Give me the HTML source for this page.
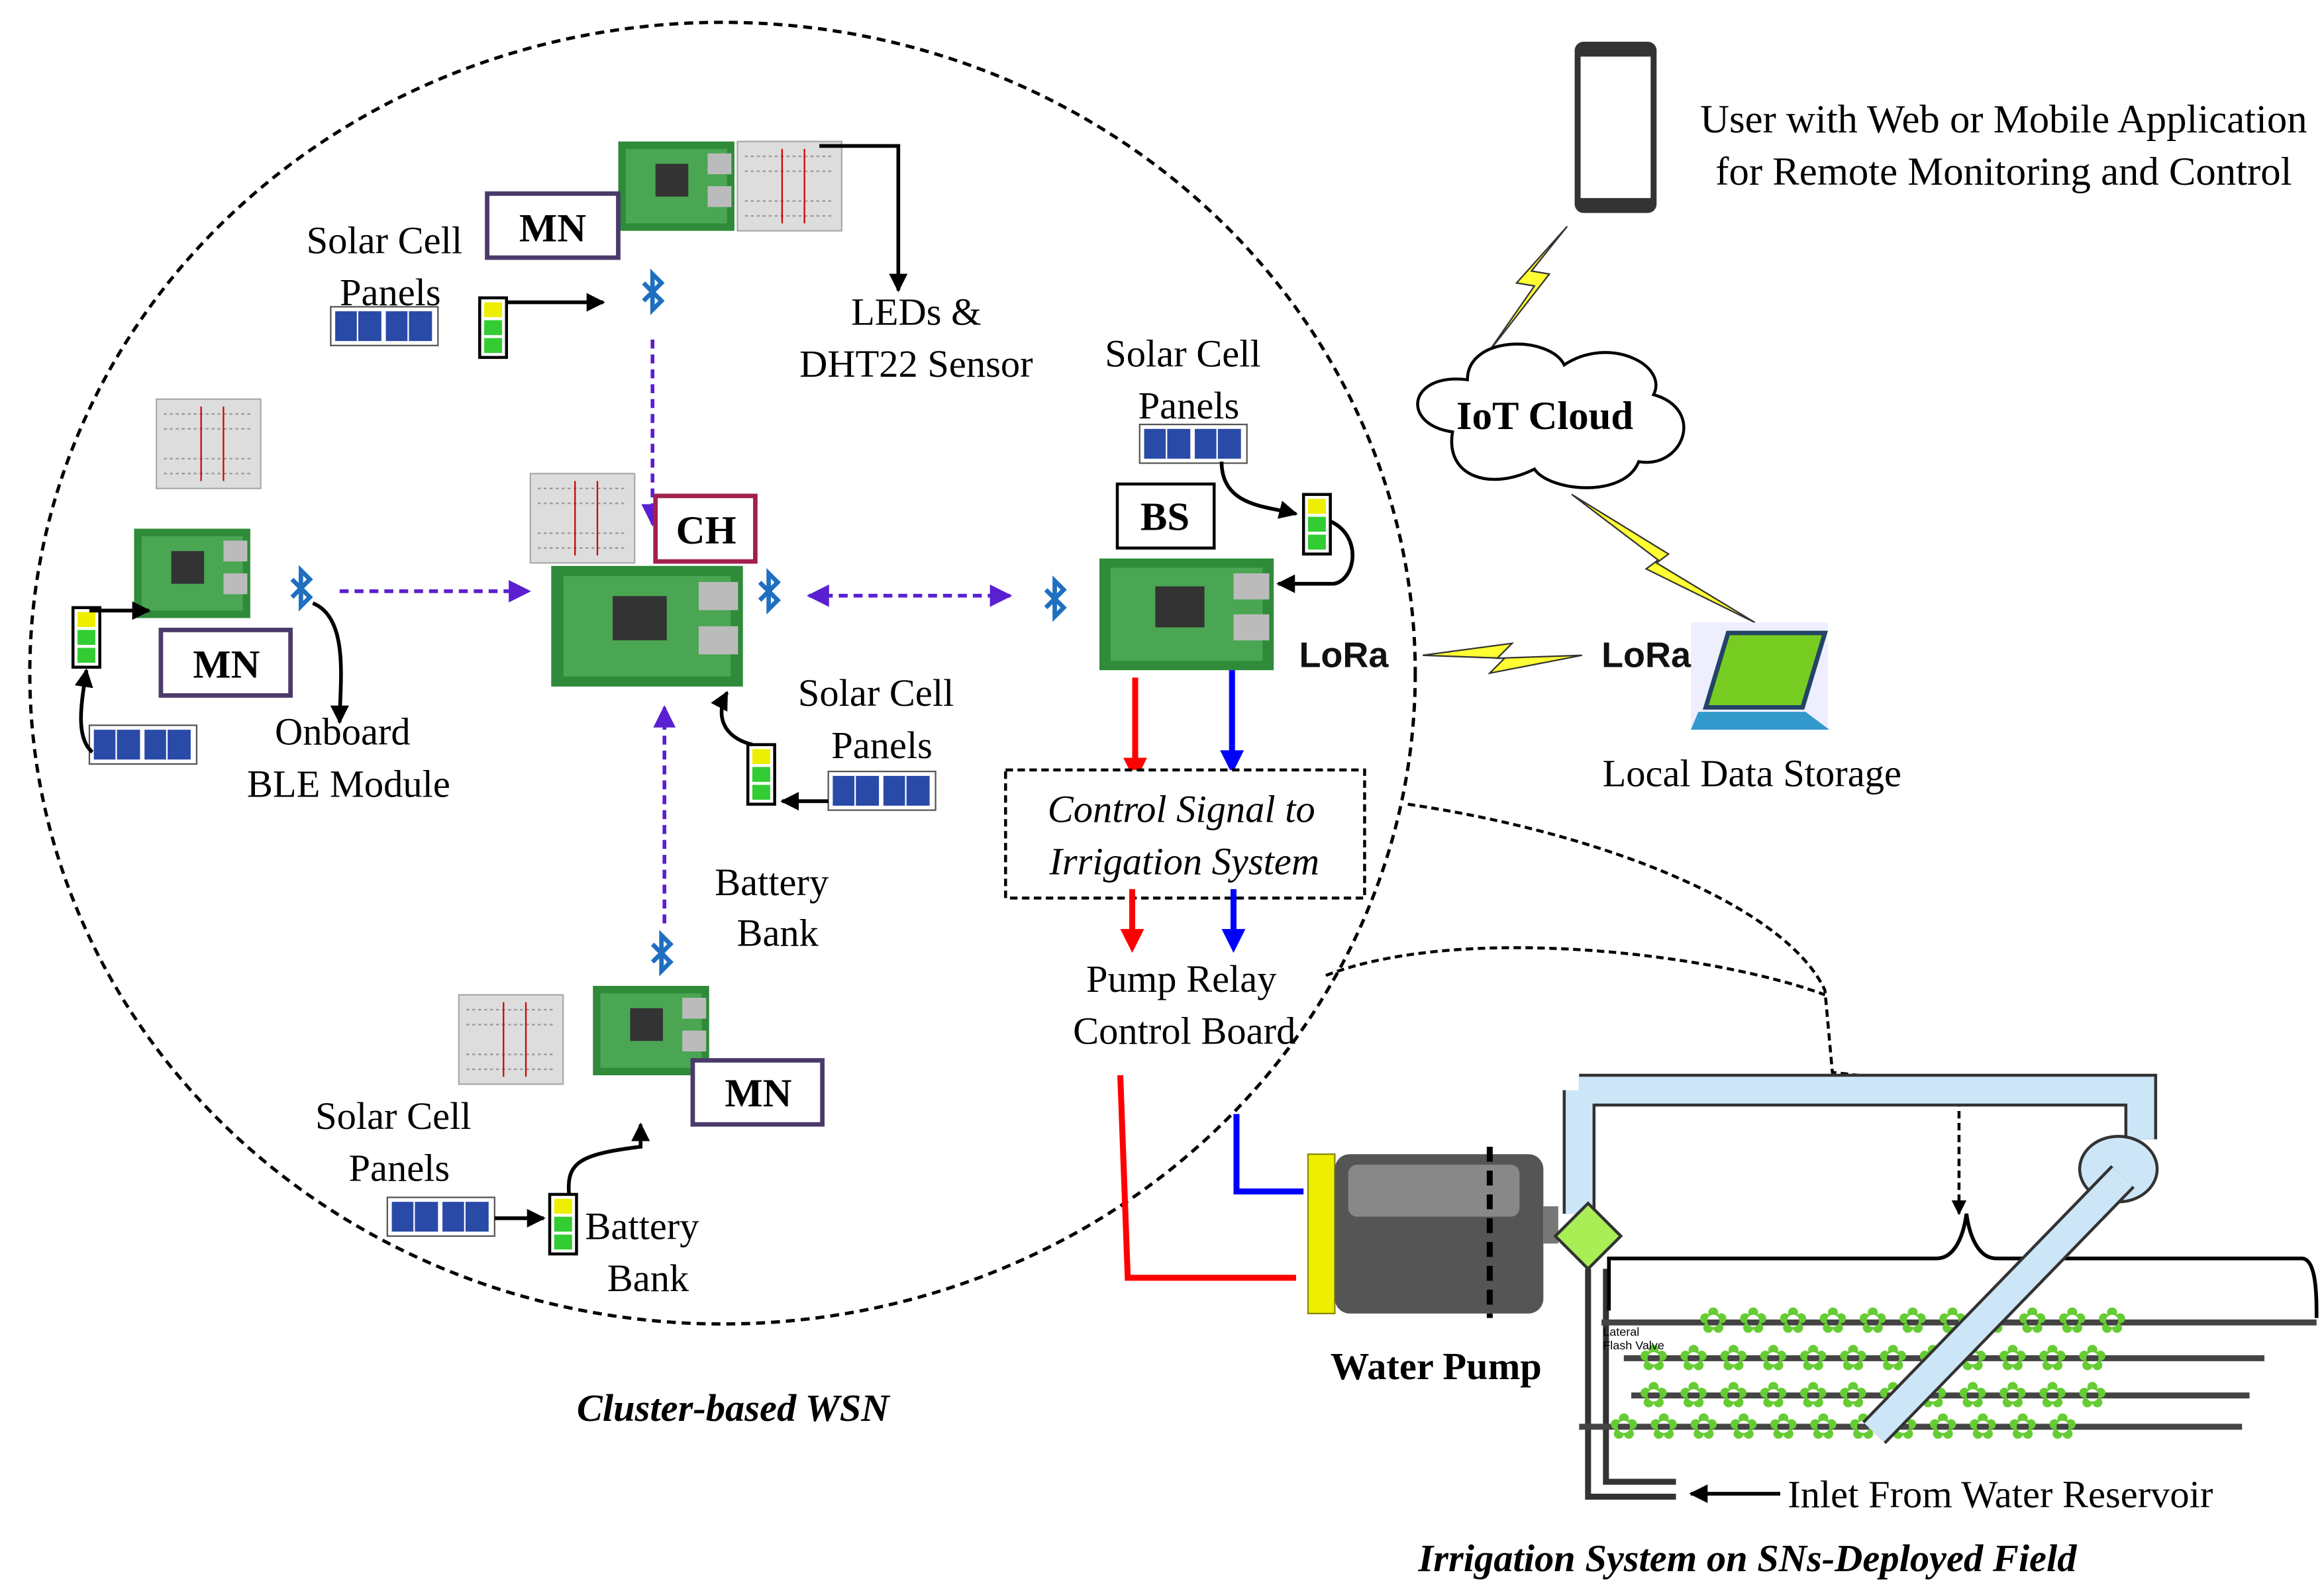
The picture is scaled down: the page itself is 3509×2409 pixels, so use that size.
<!DOCTYPE html>
<html><head><meta charset="utf-8"><style>html,body{margin:0;padding:0;background:#fff}svg{display:block}</style></head><body>
<svg width="3509" height="2409" viewBox="0 0 1560 1071" preserveAspectRatio="none" xmlns="http://www.w3.org/2000/svg" font-family="Liberation Serif, serif">
<defs>
<marker id="ab" viewBox="0 0 10 10" refX="9" refY="5" markerWidth="5" markerHeight="5" orient="auto-start-reverse"><path d="M0,0L10,5L0,10z" fill="#000"/></marker>
<marker id="ap" viewBox="0 0 10 10" refX="9" refY="5" markerWidth="6" markerHeight="6" orient="auto-start-reverse"><path d="M0,0L10,5L0,10z" fill="#5a1fd1"/></marker>
<marker id="ar" viewBox="0 0 10 10" refX="7" refY="5" markerWidth="4" markerHeight="4" orient="auto"><path d="M0,0L10,5L0,10z" fill="#f00"/></marker>
<marker id="abl" viewBox="0 0 10 10" refX="7" refY="5" markerWidth="4" markerHeight="4" orient="auto"><path d="M0,0L10,5L0,10z" fill="#00f"/></marker>
<g id="board"><rect width="78" height="60" fill="#2f8a3a"/><rect x="5" y="5" width="68" height="50" fill="#4aa653"/><rect x="25" y="15" width="22" height="22" fill="#333"/><rect x="60" y="8" width="16" height="14" fill="#bbb"/><rect x="60" y="30" width="16" height="14" fill="#bbb"/></g>
<g id="bb"><rect width="70" height="60" fill="#ddd" stroke="#aaa"/><path d="M5,10H65M5,20H65M5,40H65M5,50H65" stroke="#999" stroke-dasharray="2,2"/><path d="M30,5V55M45,5V55" stroke="#c00"/></g>
<g id="bat"><rect width="18" height="40" fill="#fff" stroke="#000" stroke-width="2"/><rect x="3" y="3" width="12" height="10" fill="#ee0"/><rect x="3" y="15" width="12" height="10" fill="#3c3"/><rect x="3" y="27" width="12" height="10" fill="#3c3"/></g>
<g id="sol"><rect width="72" height="26" fill="#fff" stroke="#555"/><rect x="3" y="3" width="31" height="20" fill="#2a4aa8"/><rect x="37" y="3" width="31" height="20" fill="#2a4aa8"/><path d="M18,3V23M52,3V23" stroke="#fff"/></g>
<g id="bt"><path d="M-6,-6L6,6L0,12V-12L6,-6L-6,6" fill="none" stroke="#1f6fc1" stroke-width="3"/></g>
</defs>
<ellipse cx="485" cy="452" rx="465" ry="437" fill="none" stroke="#000" stroke-width="2.2" stroke-dasharray="6,4"/>
<path d="M945,540C1080,560 1200,610 1225,665L1230,720L1315,730L1315,815" fill="none" stroke="#000" stroke-width="2" stroke-dasharray="5,3" marker-end="url(#ab)"/>
<path d="M890,655C980,620 1150,640 1225,668" fill="none" stroke="#000" stroke-width="2" stroke-dasharray="5,3"/>
<rect x="1057" y="28" width="55" height="115" rx="6" fill="#333"/><rect x="1061" y="38" width="47" height="95" fill="#fff"/>
<text x="1345" y="89" font-size="27" text-anchor="middle">User with Web or Mobile Application</text>
<text x="1345" y="124" font-size="27" text-anchor="middle">for Remote Monitoring and Control</text>
<path d="M1052,152L1018,190L1030,192L998,238L1040,184L1028,182Z" fill="#ff3" stroke="#333"/>
<path d="M1055,332L1120,372L1112,378L1178,418L1105,382L1113,376Z" fill="#ff3" stroke="#333"/>
<path d="M955,440L1015,432L1005,442L1062,440L1000,452L1010,442Z" fill="#ff3" stroke="#333"/>
<path d="M975,290C940,285 945,250 985,255C985,225 1040,225 1050,245C1080,225 1120,245 1110,265C1145,275 1130,315 1100,310C1090,335 1040,330 1030,315C1000,330 970,320 975,290Z" fill="#fff" stroke="#000" stroke-width="2"/>
<text x="1037" y="288" font-size="27" font-weight="bold" text-anchor="middle">IoT Cloud</text>
<rect x="1135" y="418" width="92" height="72" fill="#eef"/><path d="M1160,425L1225,425L1210,475L1145,475Z" fill="#7c2" stroke="#246" stroke-width="3"/><path d="M1140,478L1212,478L1228,490L1135,490Z" fill="#39c"/>
<text x="1105" y="448" font-size="24" font-weight="bold" font-family="Liberation Sans,sans-serif" text-anchor="middle" fill="#111">LoRa</text>
<text x="902" y="448" font-size="24" font-weight="bold" font-family="Liberation Sans,sans-serif" text-anchor="middle" fill="#111">LoRa</text>
<text x="1176" y="528" font-size="26" text-anchor="middle">Local Data Storage</text>
<use href="#board" x="415" y="95"/><use href="#bb" x="495" y="95"/>
<path d="M550,98H603V195" fill="none" stroke="#000" stroke-width="2.5" marker-end="url(#ab)"/>
<rect x="327" y="130" width="88" height="43" fill="#fff" stroke="#4a3a6a" stroke-width="3"/><text x="371" y="162" font-size="27" font-weight="bold" text-anchor="middle">MN</text>
<text x="258" y="170" font-size="26" text-anchor="middle">Solar Cell</text><text x="262" y="205" font-size="26" text-anchor="middle">Panels</text>
<use href="#sol" x="222" y="206"/><use href="#bat" x="322" y="200"/>
<path d="M340,203H405" stroke="#000" stroke-width="2.5" marker-end="url(#ab)"/>
<use href="#bt" x="438" y="196"/>
<text x="615" y="218" font-size="26" text-anchor="middle">LEDs &amp;</text><text x="615" y="253" font-size="26" text-anchor="middle">DHT22 Sensor</text>
<path d="M438,228V352" stroke="#5a1fd1" stroke-width="2.5" stroke-dasharray="6,4" marker-end="url(#ap)"/>
<use href="#bb" x="356" y="318"/>
<g transform="translate(370,380) scale(1.65,1.35)"><use href="#board"/></g>
<rect x="440" y="333" width="67" height="44" fill="#fff" stroke="#a02050" stroke-width="3"/><text x="474" y="365" font-size="27" font-weight="bold" text-anchor="middle">CH</text>
<use href="#bt" x="516" y="397"/>
<path d="M228,397H355" stroke="#5a1fd1" stroke-width="2.5" stroke-dasharray="6,4" marker-end="url(#ap)"/>
<path d="M543,400H678" stroke="#5a1fd1" stroke-width="2.5" stroke-dasharray="6,4" marker-start="url(#ap)" marker-end="url(#ap)"/>
<path d="M446,620V475" stroke="#5a1fd1" stroke-width="2.5" stroke-dasharray="6,4" marker-end="url(#ap)"/>
<text x="588" y="474" font-size="26" text-anchor="middle">Solar Cell</text><text x="592" y="509" font-size="26" text-anchor="middle">Panels</text>
<use href="#sol" x="556" y="518"/><use href="#bat" x="502" y="500"/>
<path d="M556,538H525" stroke="#000" stroke-width="2.5" marker-end="url(#ab)"/>
<path d="M505,500C485,495 480,480 488,465" fill="none" stroke="#000" stroke-width="2.5" marker-end="url(#ab)"/>
<text x="518" y="601" font-size="26" text-anchor="middle">Battery</text><text x="522" y="635" font-size="26" text-anchor="middle">Bank</text>
<use href="#bb" x="105" y="268"/><use href="#board" x="90" y="355"/>
<use href="#bt" x="202" y="395"/>
<rect x="108" y="423" width="87" height="44" fill="#fff" stroke="#4a3a6a" stroke-width="3"/><text x="152" y="455" font-size="27" font-weight="bold" text-anchor="middle">MN</text>
<use href="#bat" x="49" y="408"/><path d="M60,410H100" fill="none" stroke="#000" stroke-width="2.5" marker-end="url(#ab)"/>
<use href="#sol" x="60" y="487"/><path d="M62,505C50,495 55,470 58,450" fill="none" stroke="#000" stroke-width="2.5" marker-end="url(#ab)"/>
<path d="M210,405C235,415 228,460 228,485" fill="none" stroke="#000" stroke-width="2.5" marker-end="url(#ab)"/>
<text x="230" y="500" font-size="26" text-anchor="middle">Onboard</text><text x="234" y="535" font-size="26" text-anchor="middle">BLE  Module</text>
<use href="#bt" x="444" y="640"/>
<use href="#bb" x="308" y="668"/><use href="#board" x="398" y="662"/>
<rect x="465" y="712" width="87" height="43" fill="#fff" stroke="#4a3a6a" stroke-width="3"/><text x="509" y="743" font-size="27" font-weight="bold" text-anchor="middle">MN</text>
<text x="264" y="758" font-size="26" text-anchor="middle">Solar Cell</text><text x="268" y="793" font-size="26" text-anchor="middle">Panels</text>
<use href="#sol" x="260" y="804"/><use href="#bat" x="369" y="802"/>
<path d="M332,818H365" stroke="#000" stroke-width="2.5" marker-end="url(#ab)"/>
<path d="M382,802C380,780 390,775 430,770V755" fill="none" stroke="#000" stroke-width="2.5" marker-end="url(#ab)"/>
<text x="431" y="832" font-size="26" text-anchor="middle">Battery</text><text x="435" y="867" font-size="26" text-anchor="middle">Bank</text>
<text x="492" y="954" font-size="26" font-weight="bold" font-style="italic" text-anchor="middle">Cluster-based WSN</text>
<text x="794" y="246" font-size="26" text-anchor="middle">Solar Cell</text><text x="798" y="281" font-size="26" text-anchor="middle">Panels</text>
<use href="#sol" x="765" y="285"/>
<use href="#bat" x="875" y="332"/>
<path d="M820,310C820,340 850,340 870,345" fill="none" stroke="#000" stroke-width="2.5" marker-end="url(#ab)"/>
<path d="M893,350C915,360 910,390 895,392H858" fill="none" stroke="#000" stroke-width="2.5" marker-end="url(#ab)"/>
<rect x="750" y="325" width="65" height="43" fill="#fff" stroke="#000" stroke-width="2"/><text x="782" y="356" font-size="27" font-weight="bold" text-anchor="middle">BS</text>
<g transform="translate(738,375) scale(1.5,1.25)"><use href="#board"/></g>
<use href="#bt" x="708" y="402"/>
<path d="M762,455V520" stroke="#f00" stroke-width="4" marker-end="url(#ar)"/><path d="M827,450V515" stroke="#00f" stroke-width="4" marker-end="url(#abl)"/>
<rect x="675" y="517" width="241" height="86" fill="#fff" stroke="#000" stroke-width="2" stroke-dasharray="5,3"/>
<text x="793" y="552" font-size="26" font-style="italic" text-anchor="middle">Control Signal to</text><text x="795" y="587" font-size="26" font-style="italic" text-anchor="middle">Irrigation System</text>
<path d="M760,597V635" stroke="#f00" stroke-width="4" marker-end="url(#ar)"/><path d="M828,597V635" stroke="#00f" stroke-width="4" marker-end="url(#abl)"/>
<text x="793" y="666" font-size="26" text-anchor="middle">Pump Relay</text><text x="795" y="701" font-size="26" text-anchor="middle">Control Board</text>
<path d="M752,722L757,858H870" fill="none" stroke="#f00" stroke-width="4"/><path d="M830,748V800H875" fill="none" stroke="#00f" stroke-width="4"/>
<rect x="878" y="775" width="18" height="107" fill="#ee0" stroke="#880"/><rect x="896" y="775" width="140" height="107" rx="10" fill="#555"/><rect x="905" y="782" width="115" height="35" rx="6" fill="#888"/>
<path d="M1000,770V885" stroke="#000" stroke-width="4" stroke-dasharray="10,6"/><rect x="1036" y="810" width="10" height="25" fill="#777"/>
<text x="964" y="926" font-size="26" font-weight="bold" text-anchor="middle">Water Pump</text>
<path d="M1060,732H1437V765M1060,732V815" fill="none" stroke="#333" stroke-width="22"/><path d="M1060,732H1437V765M1060,732V815" fill="none" stroke="#cde6f7" stroke-width="18"/>
<ellipse cx="1422" cy="785" rx="26" ry="22" fill="#cde6f7" stroke="#333" stroke-width="2"/>
<path d="M1066,808L1088,830L1066,852L1044,830Z" fill="#aaee55" stroke="#333" stroke-width="2"/>
<path d="M1066,852V1005H1125M1078,852V995H1125" fill="none" stroke="#333" stroke-width="4"/>
<path d="M1080,880V845H1300C1312,845 1318,830 1320,815C1322,830 1328,845 1340,845H1545C1555,845 1555,870 1555,885" fill="none" stroke="#000" stroke-width="2.5"/>
<g stroke="#444" stroke-width="4"><path d="M1075,888H1555M1090,912H1520M1095,937H1510M1060,958H1505"/></g>
<g fill="#6c3" font-size="24" font-family="Liberation Sans,sans-serif"><text x="1140" y="895">✿ ✿ ✿ ✿ ✿ ✿ ✿ ✿ ✿ ✿ ✿</text><text x="1100" y="920">✿ ✿ ✿ ✿ ✿ ✿ ✿ ✿ ✿ ✿ ✿ ✿</text><text x="1100" y="945">✿ ✿ ✿ ✿ ✿ ✿ ✿ ✿ ✿ ✿ ✿ ✿</text><text x="1080" y="966">✿ ✿ ✿ ✿ ✿ ✿ ✿ ✿ ✿ ✿ ✿ ✿</text></g>
<path d="M1425,790L1258,962" stroke="#333" stroke-width="22"/><path d="M1425,790L1258,962" stroke="#cde6f7" stroke-width="18"/>
<text x="1076" y="897" font-size="8" font-family="Liberation Sans,sans-serif">Lateral</text><text x="1076" y="906" font-size="8" font-family="Liberation Sans,sans-serif">Flash Valve</text>
<path d="M1195,1003H1135" stroke="#000" stroke-width="2.5" marker-end="url(#ab)"/>
<text x="1200" y="1012" font-size="26">Inlet From Water Reservoir</text>
<text x="1173" y="1055" font-size="26" font-weight="bold" font-style="italic" text-anchor="middle">Irrigation System on SNs-Deployed Field</text>
</svg>
</body></html>
